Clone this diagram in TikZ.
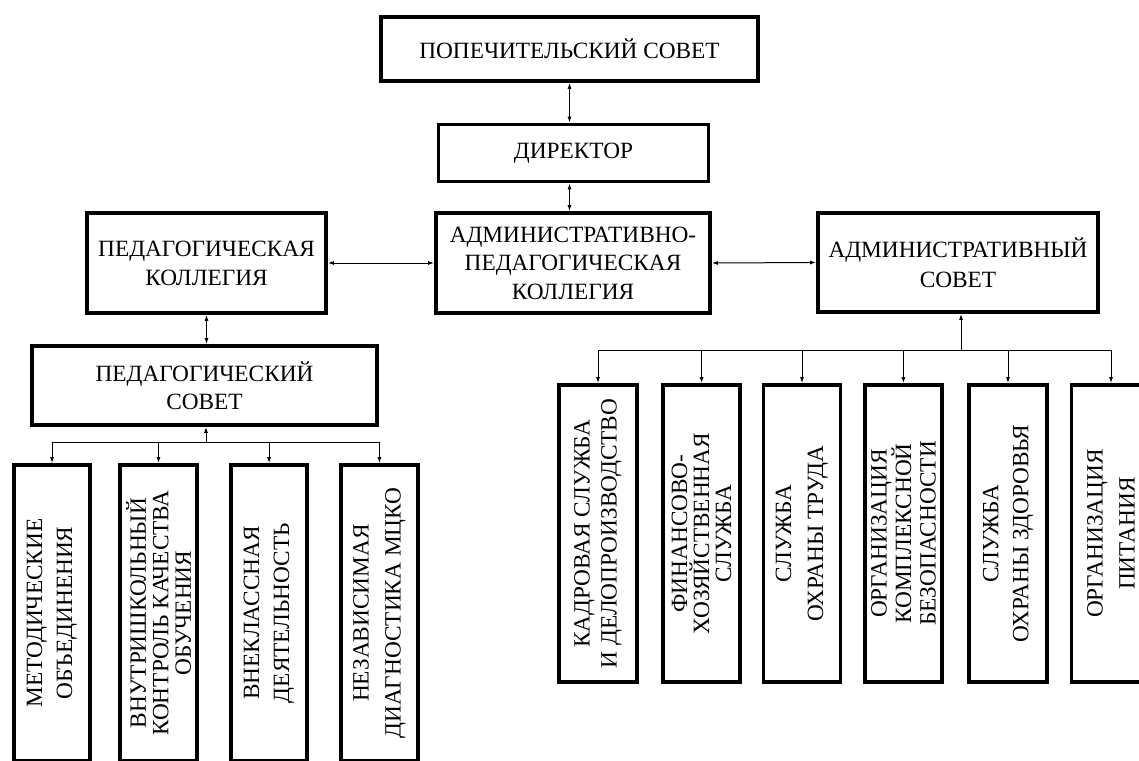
\documentclass[tikz,border=0pt]{standalone}
\usepackage{fontspec}
\setmainfont{Liberation Serif}
\usetikzlibrary{arrows.meta}
\begin{document}
\lineskiplimit=-30pt
\begin{tikzpicture}[x=1pt,y=-1pt,
  lsp/.style={font=\fontsize{23.3pt}{#1 pt}\selectfont},
  box/.style={draw, line width=3.8pt, inner sep=0pt, outer sep=1.9pt, align=center, lsp=29},
  vbox/.style={box, rotate=90},
  conn/.style={line width=1pt},
  arr/.style={conn, -{Latex[length=6pt,width=4pt]}},
  darr/.style={conn, {Latex[length=6pt,width=4pt]}-{Latex[length=6pt,width=4pt]}}]
\useasboundingbox (0,0) rectangle (1139,760);
% top part
\node[box, minimum width=377pt, minimum height=64pt] (pop) at (569.5,49) {ПОПЕЧИТЕЛЬСКИЙ СОВЕТ};
\node[box, minimum width=270pt, minimum height=57pt] (dir) at (573.5,153) {ДИРЕКТОР};
\node[box, lsp=28.5, minimum width=274pt, minimum height=100pt] (apk) at (573,263) {АДМИНИСТРАТИВНО-\\ПЕДАГОГИЧЕСКАЯ\\КОЛЛЕГИЯ};
\node[box, lsp=29, minimum width=239pt, minimum height=100pt] (pk) at (206.5,263) {ПЕДАГОГИЧЕСКАЯ\\КОЛЛЕГИЯ};
\node[box, lsp=30, minimum width=280pt, minimum height=99pt] (as) at (958,262.5) {АДМИНИСТРАТИВНЫЙ\\СОВЕТ};
\node[box, lsp=28, minimum width=345pt, minimum height=79pt] (ps) at (204.5,385.5) {ПЕДАГОГИЧЕСКИЙ\\СОВЕТ};
% left children
\node[vbox, lsp=30, minimum width=296pt, minimum height=76pt] (m1) at (52,613) {МЕТОДИЧЕСКИЕ\\ОБЪЕДИНЕНИЯ};
\node[vbox, lsp=22.5, minimum width=296pt, minimum height=77pt] (m2) at (158.5,613) {ВНУТРИШКОЛЬНЫЙ\\КОНТРОЛЬ КАЧЕСТВА\\ОБУЧЕНИЯ};
\node[vbox, lsp=30, minimum width=296pt, minimum height=76pt] (m3) at (269,613) {ВНЕКЛАССНАЯ\\ДЕЯТЕЛЬНОСТЬ};
\node[vbox, lsp=32, minimum width=296pt, minimum height=77pt] (m4) at (379.5,613) {НЕЗАВИСИМАЯ\\ДИАГНОСТИКА МЦКО};
% right children
\node[vbox, lsp=27, minimum width=297pt, minimum height=78pt] (r1) at (598,533.5) {КАДРОВАЯ СЛУЖБА\\И ДЕЛОПРОИЗВОДСТВО};
\node[vbox, lsp=22, minimum width=297pt, minimum height=77pt] (r2) at (701.6,533.5) {ФИНАНСОВО-\\ХОЗЯЙСТВЕННАЯ\\СЛУЖБА};
\node[vbox, lsp=32, minimum width=297pt, minimum height=77pt] (r3) at (802,533.5) {СЛУЖБА\\ОХРАНЫ ТРУДА};
\node[vbox, lsp=24.5, minimum width=297pt, minimum height=77pt] (r4) at (903.4,533.5) {ОРГАНИЗАЦИЯ\\КОМПЛЕКСНОЙ\\БЕЗОПАСНОСТИ};
\node[vbox, lsp=30, minimum width=297pt, minimum height=78pt] (r5) at (1008,533.5) {СЛУЖБА\\ОХРАНЫ ЗДОРОВЬЯ};
\node[vbox, lsp=32, minimum width=297pt, minimum height=79pt] (r6) at (1111,533.5) {ОРГАНИЗАЦИЯ\\ПИТАНИЯ};
% connectors
\draw[darr] (pop.south) -- (pop.south |- dir.north);
\draw[darr] ([xshift=-4pt]dir.south) -- ([xshift=-4pt]dir.south |- apk.north);
\draw[darr] (pk.east) -- (apk.west);
\draw[darr] (apk.east) -- (as.west);
\draw[darr] (pk.south) -- (pk.south |- ps.north);
\coordinate (lb) at (206,442);
\draw[arr] (lb) -- (lb |- ps.south);
\draw[conn] (m1.east |- lb) -- (m4.east |- lb);
\foreach \m in {m1,m2,m3,m4} \draw[arr] (\m.east |- lb) -- (\m.east);
\coordinate (rb) at (961,350);
\draw[arr] (rb) -- (rb |- as.south);
\draw[conn] (r1.east |- rb) -- (r6.east |- rb);
\foreach \r in {r1,r2,r3,r4,r5,r6} \draw[arr] (\r.east |- rb) -- (\r.east);
\end{tikzpicture}
\end{document}
